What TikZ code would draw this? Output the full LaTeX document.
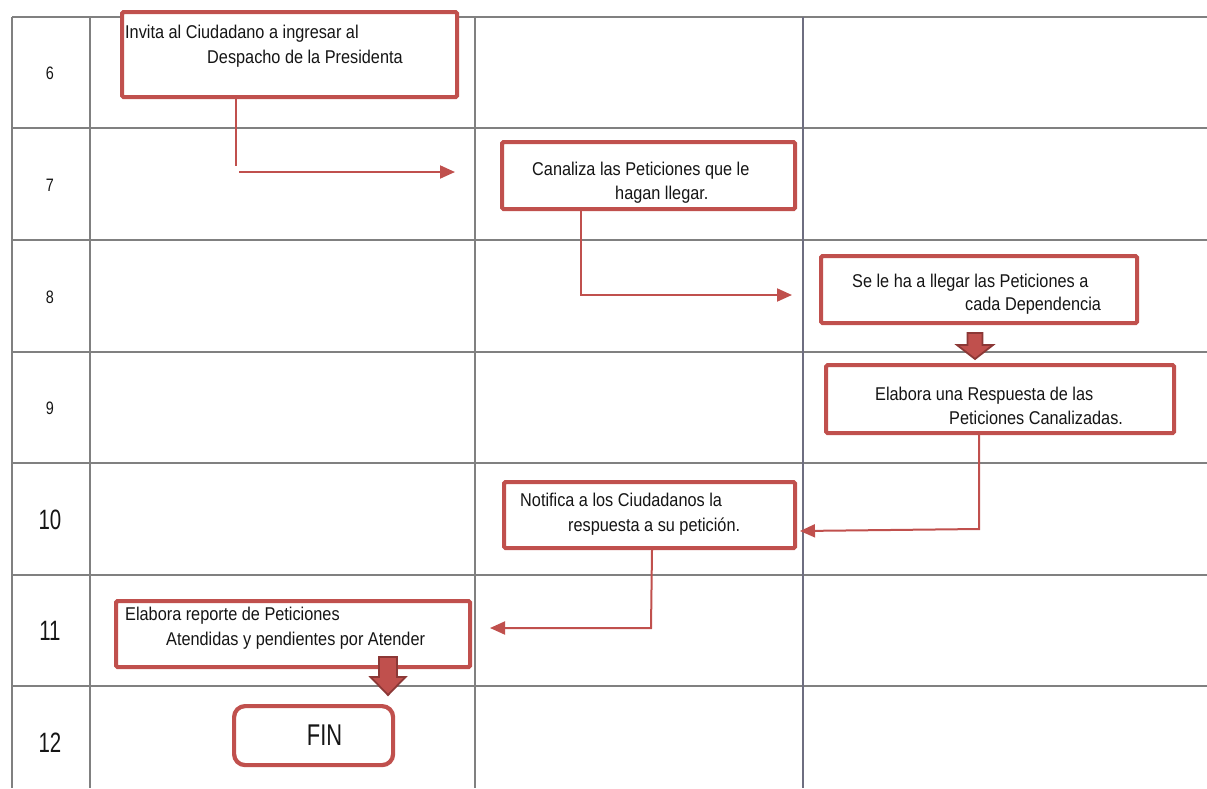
\documentclass[tikz,border=0pt]{standalone}
\usepackage{fontspec}
\setmainfont{Liberation Sans}
\newfontfamily\bodyfont{Liberation Sans}[FakeStretch=0.88]
\newfontfamily\numfont{Liberation Sans}[FakeStretch=0.80]
\newfontfamily\bignumfont{Liberation Sans}[FakeStretch=0.73]
\usetikzlibrary{arrows.meta}

\definecolor{boxred}{HTML}{C0504D}
\definecolor{boxdark}{HTML}{8C3836}
\definecolor{gridgray}{HTML}{808080}
\definecolor{laneline}{HTML}{6E6E80}
\definecolor{inkgray}{HTML}{151515}

\tikzset{
  gridline/.style={draw=gridgray, line width=1.4pt},
  stepbox/.style={draw=boxred, line width=4.2pt, rounded corners=1.5pt,
                  anchor=north west, inner sep=0pt, fill=white},
  endbox/.style={draw=boxred, line width=4.2pt, rounded corners=11pt,
                 anchor=north west, inner sep=0pt, fill=white},
  flowtext/.style={font=\bodyfont\fontsize{18.5}{22}\selectfont, text=inkgray,
                   anchor=base west, inner sep=0pt},
  rownum/.style={font=\numfont\fontsize{18}{20}\selectfont, text=inkgray},
  bignum/.style={font=\bignumfont\fontsize{28}{30}\selectfont, text=inkgray},
  fintext/.style={font=\bignumfont\fontsize{30}{32}\selectfont, text=inkgray},
  link/.style={draw=boxred, line width=2pt},
  linkarrow/.style={link, -{Triangle[length=15pt,width=13pt]}},
  blockarrow/.style={fill=boxred, draw=boxdark, line width=1.8pt, line join=miter},
}

\begin{document}
\begin{tikzpicture}[x=1pt, y=-1pt]
\useasboundingbox (0,0) rectangle (1207,788);

% table rules
\foreach \yy in {17,128,240,352,463,575,686}
  \draw[gridline] (12,\yy) -- (1207,\yy);
\foreach \xx in {12,90,475}
  \draw[gridline] (\xx,17) -- (\xx,788);
\draw[gridline, draw=laneline] (803,17) -- (803,788);

% step numbers
\node[rownum] (n6)  at (50,73)  {6};
\node[rownum] (n7)  at (50,185) {7};
\node[rownum] (n8)  at (50,297) {8};
\node[rownum] (n9)  at (50,408) {9};
\node[bignum] (n10) at (50,520) {10};
\node[bignum] (n11) at (50,631) {11};
\node[bignum] (n12) at (50,743) {12};

% process boxes
\node[stepbox, minimum width=335pt, minimum height=85pt] (b6)  at (120,10)  {};
\node[stepbox, minimum width=293pt, minimum height=67pt] (b7)  at (500,140) {};
\node[stepbox, minimum width=316pt, minimum height=67pt] (b8)  at (819,254) {};
\node[stepbox, minimum width=348pt, minimum height=68pt] (b9)  at (824,363) {};
\node[stepbox, minimum width=291pt, minimum height=66pt] (b10) at (502,480) {};
\node[stepbox, minimum width=354pt, minimum height=66pt] (b11) at (114,599) {};
\node[endbox,  minimum width=159pt, minimum height=59pt] (fin) at (232,704) {};

% box texts
\node[flowtext] (t6a)  at (125,38)  {Invita al Ciudadano a ingresar al};
\node[flowtext] (t6b)  at (207,63)  {Despacho de la Presidenta};
\node[flowtext] (t7a)  at (532,175) {Canaliza las Peticiones que le};
\node[flowtext] (t7b)  at (615,199) {hagan llegar.};
\node[flowtext] (t8a)  at (852,287) {Se le ha a llegar las Peticiones a};
\node[flowtext] (t8b)  at (965,310) {cada Dependencia};
\node[flowtext] (t9a)  at (875,400) {Elabora una Respuesta de las};
\node[flowtext] (t9b)  at (949,424) {Peticiones Canalizadas.};
\node[flowtext] (t10a) at (520,506) {Notifica a los Ciudadanos la};
\node[flowtext] (t10b) at (568,531) {respuesta a su petición.};
\node[flowtext] (t11a) at (125,620) {Elabora reporte de Peticiones};
\node[flowtext] (t11b) at (166,645) {Atendidas y pendientes por Atender};
\node[fintext] (tfin) at ([xshift=11pt]fin.center) {FIN};

% connector end points
\coordinate (c6bend) at (236,166);
\coordinate (c6start) at (239,172);
\coordinate (c6tip) at (455,172);
\coordinate (c7bend) at (581,295);
\coordinate (c7tip) at (792,295);
\coordinate (c9bend) at (979,529);
\coordinate (c9tip) at (800,531);
\coordinate (c10bend) at (651,628);
\coordinate (c10tip) at (490,628);

% connectors
\draw[link] (b6.south -| c6bend) -- (c6bend);
\draw[linkarrow] (c6start) -- (c6tip);
\draw[linkarrow] (b7.south -| c7bend) -- (c7bend) -- (c7tip);
\draw[linkarrow] (b9.south -| c9bend) -- (c9bend) -- (c9tip);
\draw[linkarrow] (b10.south -| 652,0) -- (c10bend) -- (c10tip);

% block arrows between stacked steps
\draw[blockarrow] (967.5,333) -- (982.5,333) -- (982.5,345) -- (993,345)
  -- (975,359) -- (957,345) -- (967.5,345) -- cycle;
\draw[blockarrow] (379,657) -- (397,657) -- (397,677) -- (405.5,677)
  -- (388,695) -- (370.5,677) -- (379,677) -- cycle;
\end{tikzpicture}
\end{document}
